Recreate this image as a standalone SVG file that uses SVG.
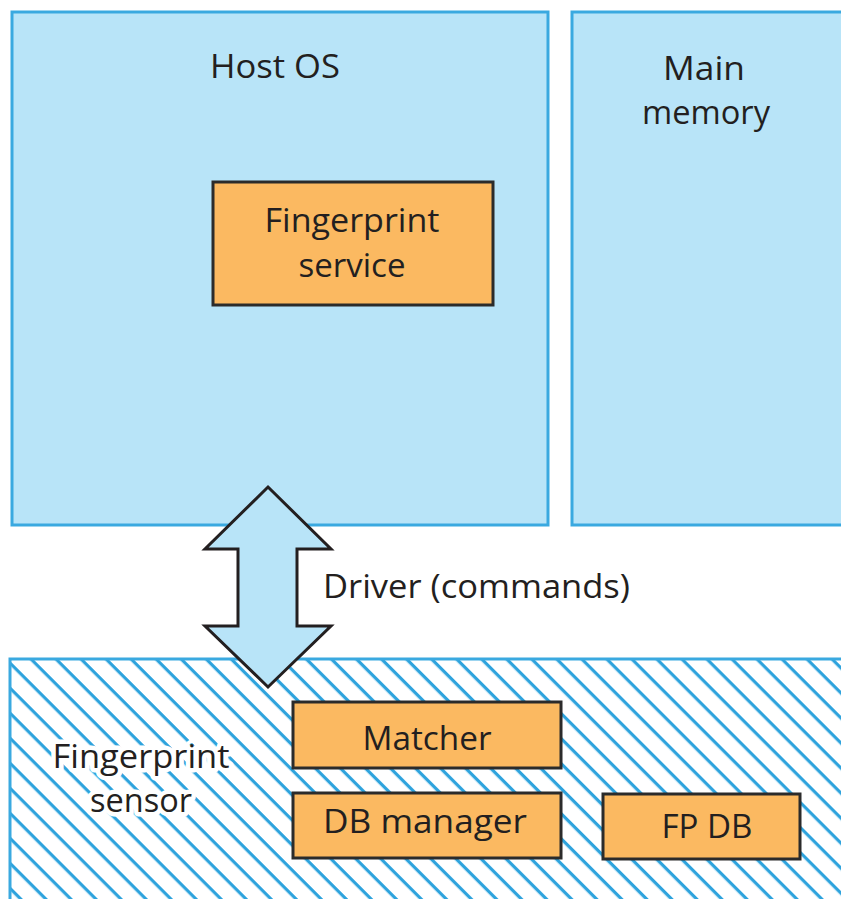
<svg xmlns="http://www.w3.org/2000/svg" width="841" height="899" viewBox="0 0 841 899">
  <defs>
    <pattern id="hatch" patternUnits="userSpaceOnUse" width="12" height="17.7" patternTransform="rotate(45)">
      <rect x="0" y="0" width="12" height="3.2" fill="#2ea3dd"/>
    </pattern>
  </defs>
  <style>
    .blue { fill: #b8e4f8; stroke: #3aa9e0; stroke-width: 3; }
    .orange { fill: #fbb961; stroke: #2b2b2b; stroke-width: 3; }
    .sensor { fill: url(#hatch); stroke: #3aa9e0; stroke-width: 3; }
    text { font-family: "Open Sans", "Liberation Sans", sans-serif; font-size: 33px; fill: #231f20; text-anchor: middle; }
    .halo { stroke: #ffffff; stroke-width: 9; stroke-linejoin: round; paint-order: stroke; }
    .arrow { fill: #b8e4f8; stroke: #231f20; stroke-width: 3; stroke-linejoin: miter; }
  </style>
  <rect x="0" y="0" width="841" height="899" fill="#ffffff"/>

  <g id="host-os">
    <rect class="blue" x="12" y="12" width="536" height="513"/>
    <text x="275" y="78" textLength="130" lengthAdjust="spacingAndGlyphs">Host OS</text>
  </g>

  <g id="main-memory">
    <rect class="blue" x="572" y="12" width="300" height="513"/>
    <text x="704" y="80" textLength="82" lengthAdjust="spacingAndGlyphs">Main</text>
    <text x="706" y="124" textLength="128" lengthAdjust="spacingAndGlyphs">memory</text>
  </g>

  <g id="fingerprint-service">
    <rect class="orange" x="213" y="182" width="280" height="123"/>
    <text x="352" y="232" textLength="175" lengthAdjust="spacingAndGlyphs">Fingerprint</text>
    <text x="352" y="277" textLength="107" lengthAdjust="spacingAndGlyphs">service</text>
  </g>

  <g id="fingerprint-sensor">
    <rect class="sensor" x="10" y="659" width="900" height="300"/>
    <text class="halo" x="141" y="768" textLength="177" lengthAdjust="spacingAndGlyphs">Fingerprint</text>
    <text class="halo" x="141" y="812" textLength="102" lengthAdjust="spacingAndGlyphs">sensor</text>
  </g>

  <g id="matcher">
    <rect class="orange" x="293" y="702" width="268" height="66"/>
    <text x="427" y="750" textLength="129" lengthAdjust="spacingAndGlyphs">Matcher</text>
  </g>

  <g id="db-manager">
    <rect class="orange" x="293" y="793" width="268" height="65"/>
    <text x="425" y="833" textLength="204" lengthAdjust="spacingAndGlyphs">DB manager</text>
  </g>

  <g id="fp-db">
    <rect class="orange" x="603" y="794" width="197" height="65"/>
    <text x="707" y="838" textLength="91" lengthAdjust="spacingAndGlyphs">FP DB</text>
  </g>

  <g id="connectors">
    <polygon class="arrow" points="268,487 331,549 297,549 297,626 331,626 268,687 205,626 238,626 238,549 205,549"/>
    <text x="323" y="598" style="text-anchor:start" textLength="307" lengthAdjust="spacingAndGlyphs">Driver (commands)</text>
  </g>
</svg>
